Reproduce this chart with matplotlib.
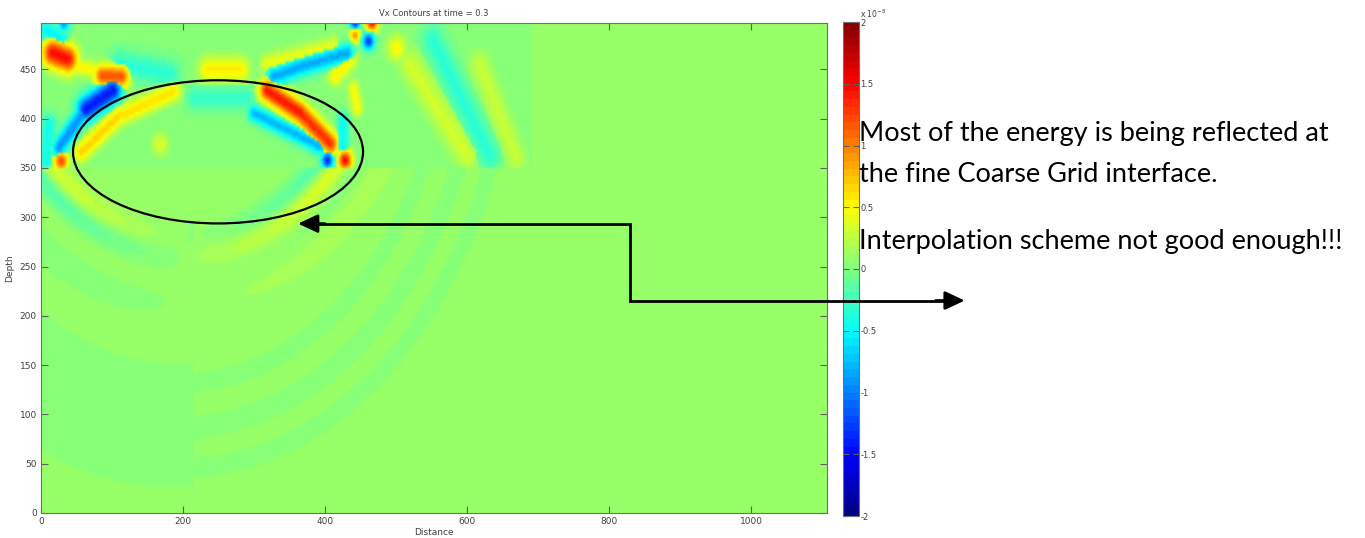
import numpy as np
import matplotlib
matplotlib.use("Agg")
import matplotlib.pyplot as plt
from matplotlib.patches import Ellipse
from matplotlib.colors import ListedColormap

# domain (Distance x Depth) and grid interface
x_max = 1107
y_max = 497
fine_top_y = 350       # fine grid lies above this depth
fine_right_x = 690     # ... and left of this distance
box_right_x = 215      # lower-left coarse block edge
box_bottom_y = 25

# strong features in the fine grid (units of 1e-8)
# each one a short stroke x0,y0 -> x1,y1 with a width and an amplitude
st_x0 = [15, 45, 85, 100, 62, 10, 27, 6, 6, 31, 110, 55, 107, 234, 215, 318, 365,
         299, 403, 428, 425, 327, 365, 414, 318, 440, 442, 466, 442, 461, 501, 520,
         552, 618, 167]
st_y0 = [466, 453, 443, 428, 409, 393, 356, 356, 489, 496, 455, 365, 401, 449, 420, 428, 405,
         405, 357, 357, 398, 442, 452, 442, 455, 430, 497, 497, 484, 478, 471, 454,
         479, 454, 373]
st_x1 = [36, 72, 112, 62, 24, 6, 27, 6, 27, 31, 180, 107, 186, 280, 290, 365, 407,
         393, 403, 428, 425, 365, 431, 435, 411, 445, 442, 466, 442, 461, 501, 600,
         632, 670, 167]
st_y1 = [460, 449, 442, 409, 370, 362, 356, 356, 479, 496, 445, 401, 427, 449, 420, 405, 374,
         371, 357, 357, 370, 452, 466, 459, 472, 410, 497, 497, 484, 478, 471, 362,
         362, 359, 373]
st_w = [10, 6, 8, 9, 7, 8, 7, 6, 8, 6, 10, 7, 7, 9, 8, 8, 8,
        6, 6, 7, 6, 7, 7, 7, 7, 6, 5, 6, 5, 6, 9, 11,
        11, 10, 8]
st_amp = [1.45, 0.5, 1.15, -1.45, -0.95, -0.45, 1.2, -0.5, -0.55, -0.9, -0.35, 0.65, 0.6, 0.55, -0.3, 1.4, 1.3,
          -0.8, -1.4, 1.5, -0.5, -0.85, -0.85, 0.5, 0.4, 0.45, -1.4, 1.45, 0.9, -1.3, 0.5, 0.3,
          -0.35, 0.25, 0.35]

# faint wavefronts in the coarse grid: centre, radius, width, amplitude, Vx polarity
rg_cx = [200, 200, 190, 190, 190]
rg_cy = [560, 560, 515, 515, 515]
rg_r = [290, 335, 385, 430, 472]
rg_w = [11, 13, 10, 10, 9]
rg_amp = [0.4, 0.1, -0.06, -0.07, -0.07]
rg_pol = [1, 1, 0, 0, 0]

bg_value = 0.1
fine_bg = 0.02
box_offset = -0.03

x_ticks = [0, 200, 400, 600, 800, 1000]
y_ticks = [0, 50, 100, 150, 200, 250, 300, 350, 400, 450]
cb_ticks = [-2, -1.5, -1, -0.5, 0, 0.5, 1, 1.5, 2]


def seg_dist(X, Y, x0, y0, x1, y1):
    dx, dy = x1 - x0, y1 - y0
    L2 = dx * dx + dy * dy
    if L2 == 0:
        return np.hypot(X - x0, Y - y0)
    t = np.clip(((X - x0) * dx + (Y - y0) * dy) / L2, 0, 1)
    return np.hypot(X - (x0 + t * dx), Y - (y0 + t * dy))


def matlab_jet(n=64):
    p = (np.arange(n) + 0.5) / n
    r = np.interp(p, [0, 3 / 8, 5 / 8, 7 / 8, 1], [0, 0, 1, 1, 0.5])
    g = np.interp(p, [0, 1 / 8, 3 / 8, 5 / 8, 7 / 8, 1], [0, 0, 1, 1, 0, 0])
    b = np.interp(p, [0, 1 / 8, 3 / 8, 5 / 8, 1], [0.5, 1, 1, 0, 0])
    return ListedColormap(np.column_stack([r, g, b]))


xs = np.arange(0, x_max + 1, 3.0)
ys = np.arange(0, y_max + 1, 3.0)
X, Y = np.meshgrid(xs, ys)
fine = (Y >= fine_top_y) & (X <= fine_right_x)

field = np.full(X.shape, bg_value)
field[fine] = fine_bg
field[(X < box_right_x) & (Y > box_bottom_y) & ~fine] += box_offset

# coarse wavefronts
for cx, cy, r, w, a, pol in zip(rg_cx, rg_cy, rg_r, rg_w, rg_amp, rg_pol):
    dist = np.hypot(X - cx, Y - cy)
    d = (dist - r) / w
    if pol:
        wave = a * d * np.exp(0.5 - 0.5 * d ** 2) * (X - cx) / np.maximum(dist, 1)
    else:
        wave = a * np.exp(-0.5 * d ** 2)
    field[~fine] += wave[~fine]

# fine grid features, strongest one wins where strokes meet
strongest = np.zeros(X.shape)
for x0, y0, x1, y1, w, a in zip(st_x0, st_y0, st_x1, st_y1, st_w, st_amp):
    g = a * np.exp(-0.5 * (seg_dist(X, Y, x0, y0, x1, y1) / w) ** 2)
    strongest = np.where(np.abs(g) > np.abs(strongest), g, strongest)
field[fine] += strongest[fine]

fig = plt.figure(figsize=(13.65, 5.38), dpi=100)
ax = fig.add_axes([41 / 1365, 25 / 538, 786 / 1365, 490 / 538])
cax = fig.add_axes([843 / 1365, 22 / 538, 16 / 1365, 494 / 538])

im = ax.imshow(field, origin="lower", extent=[0, x_max, 0, y_max], cmap=matlab_jet(),
               vmin=-2, vmax=2, aspect="auto", interpolation="bilinear")
ax.set_xlim(0, x_max)
ax.set_ylim(0, y_max)
ax.set_xticks(x_ticks)
ax.set_yticks(y_ticks)
tick_col = "#404040"
ax.tick_params(direction="in", top=True, right=True, length=5, labelsize=6.5,
               colors="#606060", labelcolor=tick_col, pad=3)
for s in ax.spines.values():
    s.set_color("#707070")
ax.set_title("Vx Contours at time = 0.3", fontsize=6, color=tick_col, pad=5)
ax.set_xlabel("Distance", fontsize=6.5, color=tick_col, labelpad=1)
ax.set_ylabel("Depth", fontsize=6.5, color=tick_col, labelpad=4)

cb = fig.colorbar(im, cax=cax, ticks=cb_ticks)
cb.ax.set_yticklabels([f"{t:g}" for t in cb_ticks])
cb.ax.tick_params(direction="in", left=True, right=True, length=4, labelsize=6,
                  colors="#606060", labelcolor=tick_col, pad=1)
cb.outline.set_edgecolor("#707070")
cax.text(1.05, 1.005, r"x 10$^{-8}$", transform=cax.transAxes, fontsize=5.5,
         color=tick_col, ha="left", va="bottom")

# overlay in the same data coordinates, drawn above the colorbar
top = fig.add_axes(ax.get_position(), facecolor="none")
top.set_xlim(0, x_max)
top.set_ylim(0, y_max)
top.axis("off")
top.add_patch(Ellipse((249.3, 366.3), 408.5, 145.2, fill=False, ec="black", lw=1.6))
top.plot([370, 829.6, 829.6, 1285], [293.5, 293.5, 215.5, 215.5], color="black",
         lw=2, clip_on=False, solid_joinstyle="miter")
head = dict(arrowstyle="-|>,head_length=0.6,head_width=0.28", color="black", lw=2,
            mutation_scale=20, shrinkA=0, shrinkB=0)
top.annotate("", xy=(362, 293.5), xytext=(400, 293.5), arrowprops=head,
             annotation_clip=False)
top.annotate("", xy=(1301, 215.5), xytext=(1260, 215.5), arrowprops=head,
             annotation_clip=False)

txt = dict(fontsize=19.5, family=["Lato", "DejaVu Sans"], color="black", va="baseline",
           ha="left")
fig.text(859 / 1365, 1 - 141 / 538, "Most of the energy is being reflected at", **txt)
fig.text(859 / 1365, 1 - 182 / 538, "the fine Coarse Grid interface.", **txt)
fig.text(859 / 1365, 1 - 249 / 538, "Interpolation scheme not good enough!!!", **txt)

fig.savefig("out.png", dpi=100)
